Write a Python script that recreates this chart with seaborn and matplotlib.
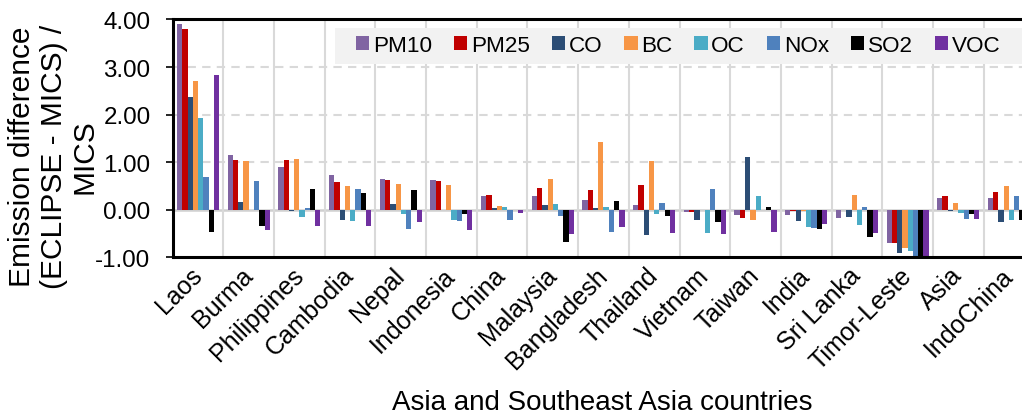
import matplotlib
matplotlib.use('Agg')
import matplotlib.pyplot as plt
import pandas as pd
import seaborn as sns
from matplotlib.patches import Rectangle
from matplotlib.ticker import FixedLocator, FormatStrFormatter

plt.rcParams['font.family'] = ['Liberation Sans', 'DejaVu Sans']

# Data
countries = ['Laos', 'Burma', 'Philippines', 'Cambodia', 'Nepal', 'Indonesia', 'China',
             'Malaysia', 'Bangladesh', 'Thailand', 'Vietnam', 'Taiwan', 'India',
             'Sri Lanka', 'Timor-Leste', 'Asia', 'IndoChina']
pollutants = ['PM10', 'PM25', 'CO', 'BC', 'OC', 'NOx', 'SO2', 'VOC']

pm10 = [3.91, 1.15, 0.90, 0.73, 0.64, 0.62, 0.29, 0.28, 0.20, 0.10, -0.04, -0.10, -0.10, -0.17, -0.69, 0.25, 0.24]
pm25 = [3.80, 1.04, 1.04, 0.59, 0.63, 0.60, 0.31, 0.46, 0.41, 0.53, -0.04, -0.18, -0.03, 0.00, -0.69, 0.28, 0.37]
co = [2.38, 0.16, -0.03, -0.22, 0.12, 0.00, 0.03, 0.09, 0.03, -0.52, -0.22, 1.11, -0.24, -0.16, -0.91, -0.03, -0.25]
bc = [2.70, 1.02, 1.06, 0.50, 0.55, 0.52, 0.08, 0.64, 1.42, 1.02, 0.00, -0.22, -0.03, 0.32, -0.81, 0.14, 0.50]
oc = [1.93, 0.00, -0.15, -0.23, -0.09, -0.21, 0.06, 0.12, 0.06, -0.08, -0.48, 0.28, -0.36, -0.32, -0.86, -0.06, -0.22]
nox = [0.68, 0.60, 0.03, 0.43, -0.41, -0.23, -0.22, -0.13, -0.46, 0.14, 0.43, 0.00, -0.38, 0.06, -0.98, -0.19, 0.29]
so2 = [-0.47, -0.34, 0.43, 0.36, 0.41, -0.08, 0.00, -0.67, 0.18, -0.14, -0.25, 0.06, -0.40, -0.57, -0.97, -0.08, -0.21]
voc = [2.83, -0.42, -0.35, -0.34, -0.25, -0.43, -0.06, -0.50, -0.36, -0.48, -0.50, -0.46, -0.29, -0.49, -0.97, -0.20, -0.25]

colors = ['#8064A2', '#C00000', '#2C4D75', '#F79646', '#4BACC6', '#4F81BD', '#000000', '#7030A0']

series = [pm10, pm25, co, bc, oc, nox, so2, voc]
df = pd.DataFrame({
    'country': countries * len(pollutants),
    'pollutant': [p for p in pollutants for _ in countries],
    'value': [v for s in series for v in s],
})

fig = plt.figure(figsize=(10.22, 4.14), dpi=100)
ax = fig.add_axes([0.169, 0.376, 0.843, 0.5745])

sns.barplot(data=df, x='country', y='value', hue='pollutant', order=countries,
            hue_order=pollutants, palette=colors, saturation=1, width=0.83,
            errorbar=None, linewidth=0, ax=ax)

ax.set_xlim(-0.5, len(countries) - 0.5)
ax.set_ylim(-1, 4)
ax.set_yticks([-1, 0, 1, 2, 3, 4])
ax.yaxis.set_major_formatter(FormatStrFormatter('%.2f'))

# grid: dashed horizontal, solid vertical separators between countries
ax.set_axisbelow(True)
for y in [1, 2, 3]:
    ax.axhline(y, color='#d9d9d9', lw=1.5, ls=(0, (4, 3)), zorder=0)
ax.axhline(0, color='#d0d0d0', lw=1.8, zorder=0.5)
ax.xaxis.set_minor_locator(FixedLocator([i + 0.5 for i in range(len(countries))]))
ax.grid(which='minor', axis='x', color='#d9d9d9', lw=1.5)
ax.tick_params(axis='x', which='both', length=0)

for side in ['left', 'top', 'bottom']:
    ax.spines[side].set_linewidth(2.2)
    ax.spines[side].set_color('black')
ax.spines['right'].set_visible(False)

ax.tick_params(axis='y', length=5, width=1.2, labelsize=17.4, pad=11)
plt.setp(ax.get_xticklabels(), rotation=45, ha='right', va='center',
         rotation_mode='anchor', fontsize=18)
ax.tick_params(axis='x', pad=10)

ax.set_ylabel('Emission difference\n(ECLIPSE - MICS) /\nMICS', fontsize=21.5,
              linespacing=1.14)
ax.yaxis.set_label_coords(-0.086, 0.426)
ax.set_xlabel('Asia and Southeast Asia countries', fontsize=20)
ax.xaxis.set_label_coords(0.498, -0.552)

# legend background strip, running off the right edge like the reference
ax.add_patch(Rectangle((335 / 1022, 1 - 65 / 414), 0.7, 36 / 414,
                       transform=fig.transFigure, facecolor='#f2f2f2',
                       edgecolor='none', clip_on=False, zorder=4))

handles, labels = ax.get_legend_handles_labels()
leg = ax.legend(handles, labels, ncol=8, loc='upper left',
                bbox_to_anchor=(349 / 1022, 1 - 29 / 414), bbox_transform=fig.transFigure,
                frameon=False, fontsize=16.2, handlelength=0.6, handleheight=0.6,
                handletextpad=0.15, columnspacing=0.98, borderpad=0.3, borderaxespad=0)
leg.set_zorder(5)

fig.savefig('out.png', dpi=100)
